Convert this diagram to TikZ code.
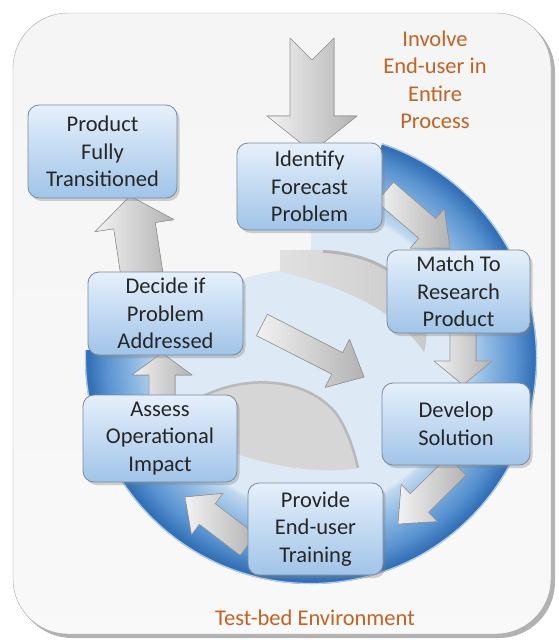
\documentclass[tikz,border=0pt]{standalone}
\usepackage{fontspec}
\setmainfont{Carlito}
\usetikzlibrary{calc,shadows}

\definecolor{inblue}{RGB}{221,233,245}
\definecolor{ringi}{RGB}{192,216,239}
\definecolor{ringa}{RGB}{145,187,228}
\definecolor{ringb}{RGB}{88,146,208}
\definecolor{ringc}{RGB}{52,112,182}
\definecolor{notecol}{RGB}{196,98,36}
\definecolor{boxtop}{RGB}{230,240,251}
\definecolor{boxbot}{RGB}{160,196,232}
\definecolor{boxline}{RGB}{118,138,162}

\pgfdeclareradialshading{ringfill}{\pgfpointorigin}{color(0bp)=(inblue); color(16.6bp)=(inblue); color(17.1bp)=(ringi); color(19.4bp)=(ringa); color(22.7bp)=(ringb); color(24.6bp)=(ringc); color(25bp)=(ringc); color(50bp)=(ringc)}

\pgfdeclarelayer{back}
\pgfdeclarelayer{mid}
\pgfsetlayers{back,mid,main}

\tikzset{
  stage/.style={rounded corners=11pt, draw=boxline, line width=0.8pt, top color=boxtop, bottom color=boxbot,
    align=center, font=\fontsize{22.5}{27.5}\selectfont, text=black!85, outer sep=0pt, inner sep=2pt,
    drop shadow={shadow xshift=2.5pt, shadow yshift=-3pt, opacity=0.35}},
  note/.style={align=center, text=notecol, font=\fontsize{22.5}{27.5}\selectfont},
  arrowbody/.style={draw=gray!80, line width=0.6pt, left color=gray!10, right color=gray!60, line join=round}
}

% block arrow: tail, tip, half shaft, half head, head length, notch
\newcommand{\blockarrow}[6]{%
  \coordinate (ahead) at ($(#2)!#5!(#1)$);
  \coordinate (anotch) at ($(#1)!#6!(#2)$);
  \filldraw[arrowbody] ($(#1)!#3!90:(#2)$) -- ($(ahead)!#3!90:(#2)$) -- ($(ahead)!#4!90:(#2)$) -- (#2)
    -- ($(ahead)!#4!-90:(#2)$) -- ($(ahead)!#3!-90:(#2)$) -- ($(#1)!#3!-90:(#2)$) -- (anotch) -- cycle;}

\begin{document}
\begin{tikzpicture}[x=1pt,y=-1pt]
\useasboundingbox (0,0) rectangle (558,644);

% stages
\node[stage, minimum width=149pt, minimum height=93pt] (prod) at (102.5,151.5) {Product\\Fully\\Transitioned};
\node[stage, minimum width=145pt, minimum height=87pt] (ident) at (309.5,186.5) {Identify\\Forecast\\Problem};
\node[stage, minimum width=143pt, minimum height=83pt] (match) at (458.5,291.5) {Match To\\Research\\Product};
\node[stage, minimum width=155pt, minimum height=83pt] (decide) at (165.5,313.5) {Decide if\\Problem\\Addressed};
\node[stage, minimum width=148pt, minimum height=82pt] (develop) at (456,424) {Develop\\Solution};
\node[stage, minimum width=154pt, minimum height=87pt] (assess) at (160,438.5) {Assess\\Operational\\Impact};
\node[stage, minimum width=135pt, minimum height=92pt] (provide) at (315.5,529) {Provide\\End-user\\Training};

\node[note] (involve) at (435,80) {Involve\\End-user in\\Entire\\Process};
\node[note] (testbed) at (315,618) {Test-bed Environment};

% frame and ring
\begin{pgfonlayer}{back}
  \fill[gray!60, rounded corners=56pt] (16,16) rectangle (555,638);
  \shadedraw[top color=gray!8, middle color=gray!28, bottom color=gray!5, draw=gray!70, rounded corners=55pt] (13,13) rectangle (551,634);
  \begin{scope}
    \clip (311,0) rectangle (558,644) (0,350) rectangle (558,644);
    \fill[inblue] (311,358) circle (152);
  \end{scope}
  \begin{scope}
    \clip (311,358) -- (430,0) -- (558,0) -- (558,644) -- (0,644) -- (0,350) -- (311,350) -- cycle;
    \shade[shading=ringfill] (311,358) circle (226);
    \draw[white!55!ringb, line width=1.2pt] (311,358) circle (225.5);
  \end{scope}
  \begin{scope}
    \clip (0,0) rectangle (311,350);
    \fill[inblue] (295,425) circle (155);
  \end{scope}
  \shade[left color=gray!24, right color=gray!42] (280,250) -- (323,250) .. controls (365,252) and (400,268) .. (418,300)
    .. controls (428,318) and (428,338) .. (424,352) .. controls (400,318) and (360,290) .. (280,272) -- cycle;
  \draw[gray!58, line width=3pt] (323,251.5) .. controls (365,253.5) and (400,269.5) .. (416,300);
  \fill[gray!32] (200,398) .. controls (235,378) and (300,372) .. (335,412) .. controls (347,428) and (354,450) .. (358,468)
    .. controls (310,476) and (250,462) .. (200,440) -- cycle;
  \draw[gray!55, line width=2.5pt] (200,398) .. controls (235,378) and (300,372) .. (335,412)
    .. controls (347,428) and (354,450) .. (358,468);
\end{pgfonlayer}

% arrows
\coordinate (input) at (312,38);
\coordinate (a1) at ($(ident.north)+(2.5,9)$);
\coordinate (b1) at ($(ident.east)+(3,5.5)$);
\coordinate (b2) at ($(match.north)+(-8.5,-2)$);
\coordinate (c1) at ($(match.south)+(4.5,-3)$);
\coordinate (c2) at ($(develop.north)+(7,2)$);
\coordinate (d1) at ($(develop.south)+(1,1)$);
\coordinate (d2) at ($(provide.east)+(15,-5)$);
\coordinate (e1) at ($(provide.west)+(0,16)$);
\coordinate (e2) at ($(assess.south)+(25,15)$);
\coordinate (f1) at ($(assess.north)+(2,2)$);
\coordinate (f2) at ($(decide.south)+(-3.5,-2)$);
\coordinate (g1) at ($(decide.east)+(19,11.5)$);
\coordinate (g2) at ($(develop.west)+(-18,-47)$);
\coordinate (k1) at ($(decide.north)+(-23.5,3)$);
\coordinate (k2) at ($(prod.south)+(27.5,-2)$);
\begin{pgfonlayer}{mid}
  \blockarrow{input}{a1}{22pt}{45pt}{36pt}{22pt}
  \blockarrow{b1}{b2}{13pt}{26pt}{30pt}{0pt}
  \blockarrow{c1}{c2}{13pt}{29pt}{24pt}{0pt}
  \blockarrow{d1}{d2}{13pt}{26pt}{30pt}{0pt}
  \blockarrow{e1}{e2}{13pt}{26pt}{28pt}{0pt}
  \blockarrow{f1}{f2}{13pt}{30pt}{22pt}{0pt}
  \blockarrow{g1}{g2}{12pt}{27pt}{30pt}{0pt}
  \blockarrow{k1}{k2}{21pt}{40pt}{30pt}{0pt}
\end{pgfonlayer}
\end{tikzpicture}
\end{document}
